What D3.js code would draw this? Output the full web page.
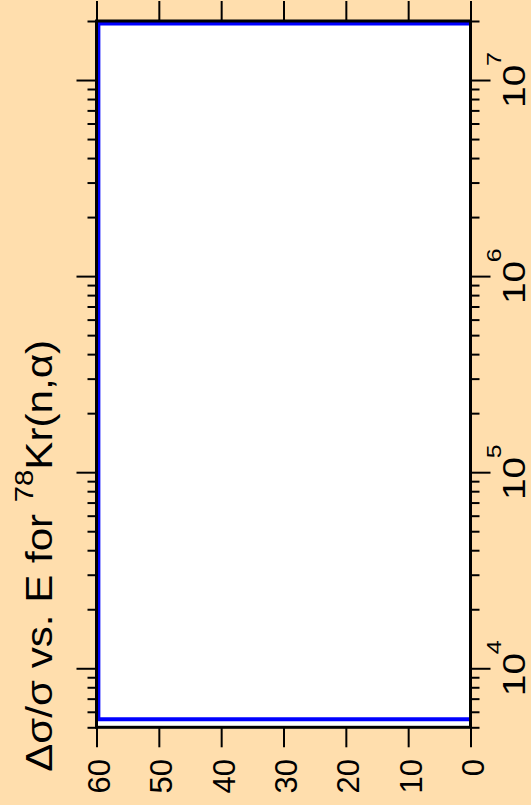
<!DOCTYPE html>
<html>
<head>
<meta charset="utf-8">
<style>
    body { margin: 0; background: #FFDEAD; }
    text { font-family: "Liberation Sans", Arial, sans-serif; fill: #000; }
    .tick line { stroke: #000; stroke-width: 2px; }
</style>
</head>
<body>
<script src="https://d3js.org/d3.v7.min.js"></script>
<script>
// data
var energy = [5500, 5500, 1.94e7, 1.94e7];   // eV
var relErr = [0, 59.7, 59.7, 0];             // delta sigma / sigma (%)

var valueTicks = [0, 10, 20, 30, 40, 50, 60];
var energyMajor = [1e4, 1e5, 1e6, 1e7];
var energyExp = ["4", "5", "6", "7"];

var width = 531, height = 805;

var svg = d3.select("body").append("svg")
    .attr("width", width)
    .attr("height", height);

// value runs horizontally (60 at left), energy runs vertically (up)
var x = d3.scaleLinear().domain([0, 60]).range([470.5, 96.5]);
var y = d3.scaleLog().domain([5000, 2e7]).range([727.3, 21]);

var pL = x(60), pR = x(0), pT = y(2e7), pB = y(5000);

svg.append("rect")
    .attr("x", pL).attr("y", pT)
    .attr("width", pR - pL).attr("height", pB - pT)
    .attr("fill", "#fff");

svg.append("clipPath").attr("id", "clip")
    .append("rect")
    .attr("x", pL).attr("y", pT)
    .attr("width", pR - pL).attr("height", pB - pT);

var pts = energy.map(function(e, i) { return [relErr[i], e]; });

var line = d3.line()
    .x(function(d) { return x(d[0]); })
    .y(function(d) { return y(d[1]); });

svg.append("path")
    .datum(pts)
    .attr("clip-path", "url(#clip)")
    .attr("d", line)
    .attr("fill", "none")
    .attr("stroke", "#0000ff")
    .attr("stroke-width", 4);

var minor = y.ticks().filter(function(t) { return energyMajor.indexOf(t) < 0; });

// top axis, ticks only
svg.append("g")
    .attr("transform", "translate(0," + pT + ")")
    .call(d3.axisTop(x).tickValues(valueTicks).tickSize(20).tickFormat(""))
    .select(".domain").remove();

// bottom axis, rotated labels
var bax = svg.append("g")
    .attr("transform", "translate(0," + pB + ")")
    .call(d3.axisBottom(x).tickValues(valueTicks).tickSize(20).tickFormat(d3.format("d")));
bax.select(".domain").remove();
bax.selectAll("text")
    .attr("transform", "rotate(-90)")
    .attr("x", -(759 - pB))
    .attr("y", 0)
    .attr("dy", "0.42em")
    .attr("text-anchor", "end")
    .attr("font-size", 31)
    .attr("font-family", null);

// left and right axes, ticks only
[[energyMajor, 20], [minor, 9]].forEach(function(s) {
    svg.append("g")
        .attr("transform", "translate(" + pL + ",0)")
        .call(d3.axisLeft(y).tickValues(s[0]).tickSize(s[1]).tickFormat(""))
        .select(".domain").remove();
    svg.append("g")
        .attr("transform", "translate(" + pR + ",0)")
        .call(d3.axisRight(y).tickValues(s[0]).tickSize(s[1]).tickFormat(""))
        .select(".domain").remove();
});

// right labels 10^n
energyMajor.forEach(function(e, i) {
    var t = svg.append("text")
        .attr("transform", "translate(525," + y(e) + ") rotate(-90) scale(1.25,1)")
        .attr("text-anchor", "middle")
        .attr("font-size", 31);
    t.append("tspan").text("10");
    t.append("tspan").attr("font-size", 20).attr("dx", -1).attr("dy", -24).text(energyExp[i]);
});

// frame
svg.append("rect")
    .attr("x", pL).attr("y", pT)
    .attr("width", pR - pL).attr("height", pB - pT)
    .attr("fill", "none")
    .attr("stroke", "#000")
    .attr("stroke-width", 3);

// title
var title = svg.append("text")
    .attr("text-anchor", "end")
    .attr("font-size", 36)
    .attr("transform", "translate(52,340) rotate(-90)");
title.append("tspan").text("\u0394\u03c3/\u03c3 vs. E for ");
title.append("tspan").attr("font-size", 25).attr("dy", -19).text("78");
title.append("tspan").attr("dy", 19).text("Kr(n,\u03b1)");
var L = title.node().getComputedTextLength();
title.attr("transform", "translate(52,340) rotate(-90) scale(" + (432 / L) + ",1)");
</script>
</body>
</html>
